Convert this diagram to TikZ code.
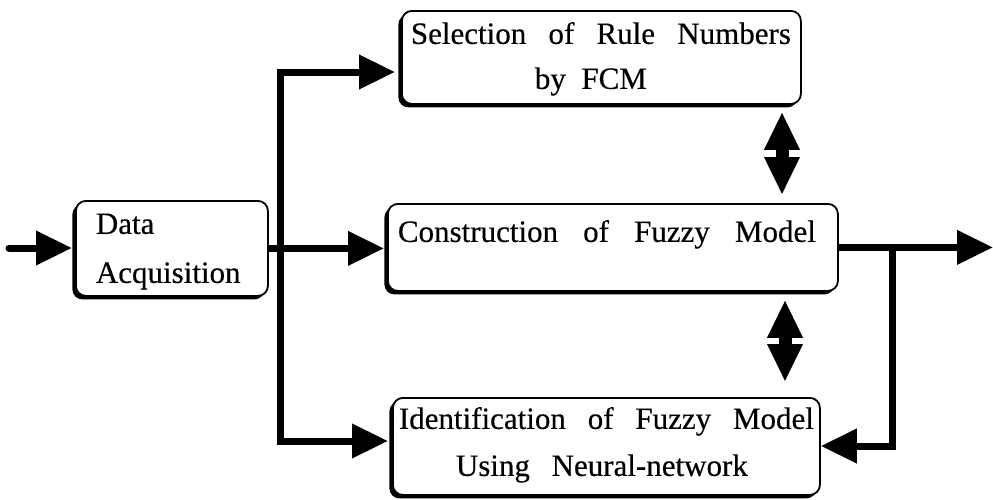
\documentclass[tikz,border=0pt]{standalone}
\usepackage{fontspec}
\setmainfont{Liberation Serif}[FakeBold=0.4]
\usetikzlibrary{arrows.meta,shadows}

% one line of a box text: #1 gap to its baseline, #2 left offset, #3 width, #4 l or s, #5 text
\newcommand{\bxline}[5]{\vspace*{#1}\noindent\hspace*{#2}\smash{\makebox[#3][#4]{#5}}\par}
% the box contents: #1 width, #2 height, #3 lines
\newcommand{\bxtext}[3]{\parbox[t][#2][t]{#1}{\offinterlineskip\setlength{\parskip}{0pt}\setlength{\parindent}{0pt}#3}}

\begin{document}
\begin{tikzpicture}[x=1pt,y=-1pt,
  box/.style={draw, line width=1.8pt, rounded corners=10pt, fill=white,
    inner sep=0pt, anchor=north west, font=\fontsize{31pt}{36pt}\selectfont,
    drop shadow={shadow xshift=-3.5pt, shadow yshift=-3.5pt, fill=black, opacity=1}},
  conn/.style={line width=7pt, -{Triangle[length=36pt,width=33pt]}},
  dbl/.style={line width=13pt, {Triangle[length=38pt,width=33pt]}-{Triangle[length=38pt,width=33pt]}}]
\useasboundingbox (0,0) rectangle (993,499);

\node[box] (da) at (75,200) {\bxtext{192pt}{95pt}{%
  \bxline{33pt}{20pt}{60pt}{l}{Data}%
  \bxline{49pt}{20pt}{150pt}{l}{Acquisition}}};

\node[box] (sel) at (401,10) {\bxtext{399pt}{93pt}{%
  \bxline{33pt}{9pt}{380pt}{s}{Selection of Rule Numbers}%
  \bxline{45pt}{133pt}{112pt}{s}{by FCM}}};

\node[box] (cons) at (387,203) {\bxtext{450pt}{87pt}{%
  \bxline{38pt}{10pt}{418pt}{s}{Construction of Fuzzy Model}}};

\node[box] (idn) at (392,397) {\bxtext{427pt}{97pt}{%
  \bxline{31pt}{6pt}{415pt}{s}{Identification of Fuzzy Model}%
  \bxline{47pt}{63pt}{292pt}{s}{Using Neural-network}}};

\coordinate (in) at (9,248);
\coordinate (bt) at (280,72);
\coordinate (bb) at (280,441);
\coordinate (out) at (993,246);
\coordinate (br) at (892,446);
\coordinate (d1) at (782,0);
\coordinate (d2) at (785,0);

\draw[conn, line cap=round, shorten >=3pt] (in) -- (in -| da.west);
\draw[conn, shorten >=3pt] (da.east) -- (da.east -| cons.west);
\draw[conn, shorten >=6pt] (bb) -- (bt) -- (bt -| sel.west);
\draw[conn, shorten >=4pt] (bt) -- (bb) -- (bb -| idn.west);
\draw[conn] (cons.east) -- (cons.east -| out);
\draw[conn] (cons.east -| br) -- (br) -- (br -| idn.east);
\draw[dbl, shorten <=7pt, shorten >=8pt] (sel.south -| d1) -- (cons.north -| d1);
\draw[dbl, shorten <=8pt, shorten >=15pt] (cons.south -| d2) -- (idn.north -| d2);
\end{tikzpicture}
\end{document}
